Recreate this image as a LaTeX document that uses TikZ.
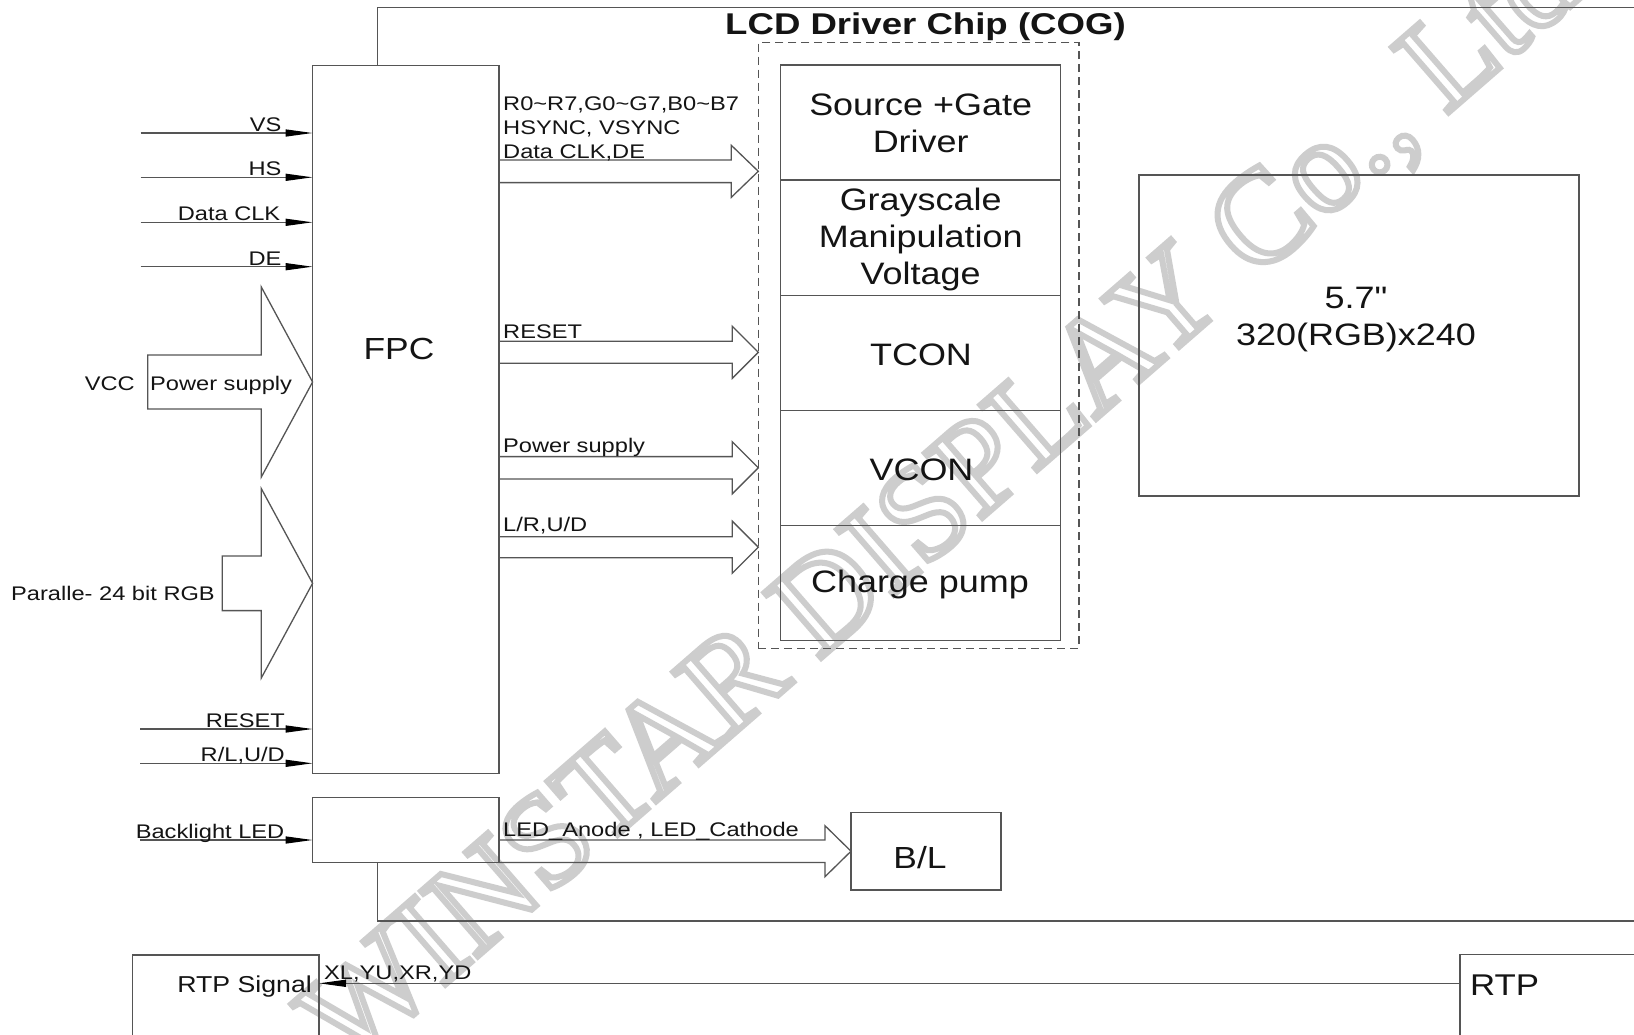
\documentclass[tikz,border=0pt]{standalone}
\usepackage{fontspec}
\setmainfont{Liberation Sans}
\newfontfamily\labfont[FakeStretch=1.2]{Liberation Sans}
\newfontfamily\blkfont[FakeStretch=1.16]{Liberation Sans}
\newfontfamily\ttlfont[FakeStretch=1.22]{Liberation Sans}
\newfontfamily\wmfont{Liberation Serif}
\usetikzlibrary{arrows.meta,calc}
\definecolor{lc}{RGB}{85,85,85}
\definecolor{tc}{RGB}{20,20,20}
\definecolor{wm}{RGB}{205,205,205}
\newcommand\fatarrow[5]{%
  \draw[line] let \p1=(#1), \p2=(#2) in
    (\x1,\y2+#3) -- (\x2-#5,\y2+#3) -- (\x2-#5,\y2+#4) -- (\x2,\y2)
    -- (\x2-#5,\y2-#4) -- (\x2-#5,\y2-#3) -- (\x1,\y2-#3) -- cycle;}
\begin{document}
\begin{tikzpicture}[x=1pt,y=-1pt,
  line/.style={draw=lc, line width=1.3pt},
  box/.style={draw=lc, line width=1.3pt, inner sep=0pt, outer sep=0pt, anchor=north west},
  lab/.style={font=\labfont\fontsize{19.7}{24}\selectfont, text=tc, inner sep=0pt},
  blk/.style={font=\blkfont\fontsize{31}{37}\selectfont, text=tc, inner sep=0pt, align=center},
  sig/.style={draw=lc, line width=1.3pt, -{Triangle[length=27pt,width=7pt,color=black]}},
]
\useasboundingbox (0,0) rectangle (1634,1034);
\fill[white] (0,0) rectangle (1634,1034);

% watermark
\node[rotate=41, anchor=base, text=wm, inner sep=0pt] (wmark) at (966,532)
  {\wmfont\fontsize{132}{138}\selectfont\special{pdf:literal direct 1 Tr 6 w}WINSTAR DISPLAY Co., Ltd\special{pdf:literal direct 0 Tr}};

% boxes
\node[box, minimum width=186.4pt, minimum height=707.6pt] (fpc) at (312.6,65.7) {};
\node[box, minimum width=186.4pt, minimum height=64.6pt] (bkl) at (312.6,797.7) {};
\node[box, dashed, dash pattern=on 8pt off 5pt, minimum width=320.7pt, minimum height=605.6pt] (chip) at (758.3,42.7) {};
\node[box, minimum width=280pt, minimum height=115.14pt] (b1) at (780.7,65) {};
\node[box, minimum width=280pt, minimum height=115.14pt] (b2) at (b1.south west) {};
\node[box, minimum width=280pt, minimum height=115.14pt] (b3) at (b2.south west) {};
\node[box, minimum width=280pt, minimum height=115.14pt] (b4) at (b3.south west) {};
\node[box, minimum width=280pt, minimum height=115.14pt] (b5) at (b4.south west) {};
\node[box, minimum width=440pt, minimum height=321pt] (disp) at (1139,175) {};
\node[box, minimum width=150pt, minimum height=77.7pt] (bl) at (851,812.3) {};
\node[box, minimum width=186.7pt, minimum height=200pt] (rtps) at (132.3,955) {};
\node[box, minimum width=300pt, minimum height=200pt] (rtp) at (1460,954.7) {};

% module frame
\coordinate (ftl) at (377.2,7.3);
\coordinate (ftr) at (1634,7.3);
\coordinate (fbl) at (377.2,921);
\coordinate (fbr) at (1634,921);
\draw[line] (ftr) -- (ftl) -- (ftl |- fpc.north);
\draw[line] (ftl |- bkl.south) -- (fbl) -- (fbr);

% title
\node[font=\ttlfont\bfseries\fontsize{30}{36}\selectfont, text=tc, anchor=base, inner sep=0pt] (title) at (925.5,34.5) {LCD Driver Chip (COG)};

% block texts
\node[blk] (t1) at (920.7,123) {Source +Gate\\Driver};
\node[blk] (t2) at (920.7,239) {Grayscale\\Manipulation\\Voltage};
\node[blk, anchor=base] (t3) at (921,365) {TCON};
\node[blk, anchor=base] (t4) at (921.5,480) {VCON};
\node[blk, anchor=base] (t5) at (920,592.7) {Charge pump};
\node[blk, anchor=base] (d1) at (1356,308) {5.7"};
\node[blk, anchor=base] (d2) at (1356,345.5) {320(RGB)x240};
\node[blk, anchor=base, font=\blkfont\fontsize{30.5}{36}\selectfont] (tf) at (399,359) {FPC};
\node[blk, anchor=base, font=\blkfont\fontsize{30.5}{36}\selectfont] (tb) at (920,868) {B/L};
\node[blk, anchor=base east, font=\blkfont\fontsize{23}{28}\selectfont] (tr1) at (312,992) {RTP Signal};
\node[blk, anchor=base west, font=\blkfont\fontsize{30}{36}\selectfont] (tr2) at (1470,995) {RTP};

% left input signals
\coordinate (yvs) at (140.7,133);
\coordinate (yhs) at (140.7,177.3);
\coordinate (ydc) at (140.7,222.3);
\coordinate (yde) at (140.7,266.7);
\coordinate (yrs) at (140,729);
\coordinate (yrl) at (140,763.3);
\coordinate (ybl) at (140,840);
\draw[sig] (yvs) -- (yvs -| fpc.west);
\draw[sig] (yhs) -- (yhs -| fpc.west);
\draw[sig] (ydc) -- (ydc -| fpc.west);
\draw[sig] (yde) -- (yde -| fpc.west);
\draw[sig] (yrs) -- (yrs -| fpc.west);
\draw[sig] (yrl) -- (yrl -| fpc.west);
\draw[sig] (ybl) -- (ybl -| bkl.west);
\node[lab, anchor=base east] (lvs) at (281.7,131.5) {VS};
\node[lab, anchor=base east] (lhs) at (281.7,175.8) {HS};
\node[lab, anchor=base east] (ldc) at (280.5,220.8) {Data CLK};
\node[lab, anchor=base east] (lde) at (281.7,265.2) {DE};
\node[lab, anchor=base east] (lrs) at (285,727.5) {RESET};
\node[lab, anchor=base east] (lrl) at (285,761.7) {R/L,U/D};
\node[lab, anchor=base east] (lbl) at (284.5,838) {Backlight LED};

% left hollow arrows
\coordinate (yv) at (147.7,382);
\coordinate (yp) at (222.3,583.3);
\fatarrow{yv}{fpc.west |- yv}{27pt}{95pt}{51.3pt}
\fatarrow{yp}{fpc.west |- yp}{27.3pt}{94.7pt}{51.3pt}
\node[lab, anchor=base east] (lvcc) at (135,390.7) {VCC};
\node[lab, anchor=base west] (lps) at (150,390.7) {Power supply};
\node[lab, anchor=base east] (lpar) at (215,600) {Paralle- 24 bit RGB};

% right hollow arrows
\coordinate (r1) at (0,171.3);
\coordinate (r2) at (0,352.3);
\coordinate (r3) at (0,467.8);
\coordinate (r4) at (0,547.2);
\coordinate (r5) at (0,851.2);
\fatarrow{fpc.east}{chip.west |- r1}{11.3pt}{26pt}{27pt}
\fatarrow{fpc.east}{chip.west |- r2}{11pt}{26pt}{26pt}
\fatarrow{fpc.east}{chip.west |- r3}{11.2pt}{26pt}{26pt}
\fatarrow{fpc.east}{chip.west |- r4}{10.5pt}{26pt}{26pt}
\fatarrow{bkl.east}{bl.west |- r5}{11.2pt}{25.5pt}{26pt}
\node[lab, anchor=base west] (lr1) at (503,110) {R0\string~R7,G0\string~G7,B0\string~B7};
\node[lab, anchor=base west] (lr2) at (503,134) {HSYNC, VSYNC};
\node[lab, anchor=base west] (lr3) at (503,158.3) {Data CLK,DE};
\node[lab, anchor=base west] (lr4) at (503,338) {RESET};
\node[lab, anchor=base west] (lr5) at (503,452.5) {Power supply};
\node[lab, anchor=base west] (lr6) at (503,531) {L/R,U/D};
\node[lab, anchor=base west] (lr7) at (503,836) {LED\_Anode , LED\_Cathode};

% RTP connection
\coordinate (ry) at (0,983.3);
\draw[sig] (rtp.west |- ry) -- (rtps.east |- ry);
\node[lab, anchor=base west] (lxl) at (324,979) {XL,YU,XR,YD};
\end{tikzpicture}
\end{document}
